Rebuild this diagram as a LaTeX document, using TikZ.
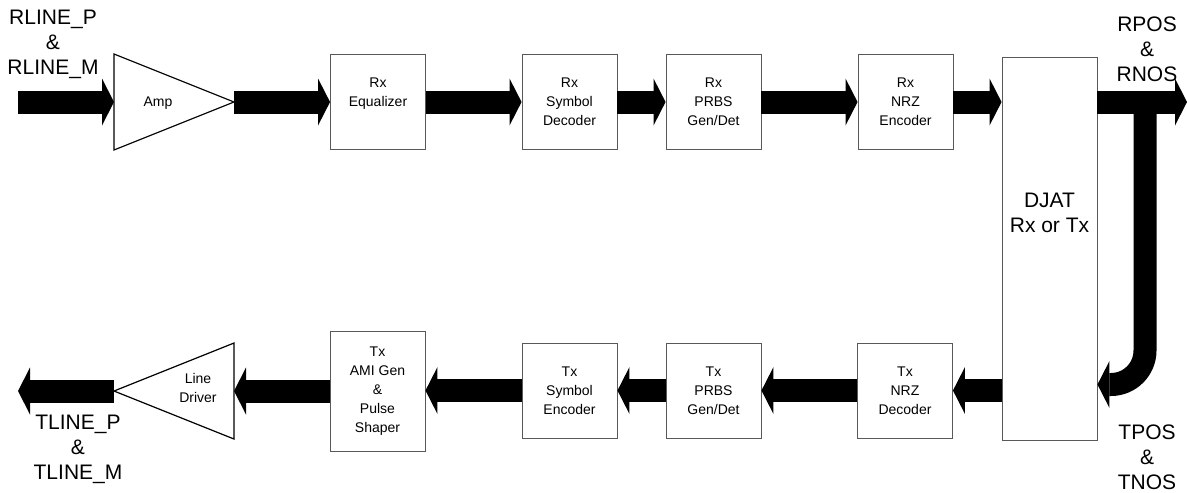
\documentclass[tikz,border=0pt]{standalone}
\usepackage{fontspec}
\setmainfont{Liberation Sans}
\usetikzlibrary{arrows.meta,positioning}

\begin{document}
\begin{tikzpicture}[
  x=1pt,y=-1pt,
  block/.style={draw=black!65,line width=.9pt,minimum width=95pt,minimum height=95pt,
    inner sep=0pt,align=center,font=\fontsize{14}{19}\selectfont},
  tri/.style={draw=black,line width=1.2pt},
  bus/.style={line width=23pt,-{Triangle[length=12pt,width=47pt,line width=0pt]}},
  sig/.style={align=center,font=\fontsize{21}{25}\selectfont},
  ]
  \useasboundingbox (0,0) rectangle (1187,493);

  % receive path
  \node[sig] (rline) at (53,44) {RLINE\_P\\\&\\RLINE\_M};
  \coordinate (rin) at (18,102);
  \draw[tri] (114,54) -- (234,102) coordinate (ampout) -- (114,150) -- cycle;
  \coordinate (ampin) at (114,102);
  \node[font=\fontsize{14}{19}\selectfont] (amp) at (158,103) {Amp};

  \node[block] (rxeq)  at (378,102) {Rx\\Equalizer\\\mbox{}};
  \node[block] (rxsym) at (569.5,102) {Rx\\Symbol\\Decoder};
  \node[block] (rxprbs) at (713.5,102) {Rx\\PRBS\\Gen/Det};
  \node[block] (rxnrz) at (905.5,102) {Rx\\NRZ\\Encoder};

  \node[block,minimum height=383pt] (djat) at (1049.5,248.5) {};
  \node[sig] (djattxt) at ([yshift=36pt]djat.center) {DJAT\\Rx or Tx};

  \node[sig] (rpos) at (1147,49) {RPOS\\\&\\RNOS};
  \coordinate (rout) at (1187,102);
  \coordinate (split) at (1145,102);

  % transmit path
  \node[sig] (tpos) at (1147,457) {TPOS\\\&\\TNOS};
  \node[block] (txnrz) at (905,390.5) {Tx\\NRZ\\Decoder};
  \node[block] (txprbs) at (713.5,390.5) {Tx\\PRBS\\Gen/Det};
  \node[block] (txsym) at (569.5,390.5) {Tx\\Symbol\\Encoder};
  \node[block,minimum height=120pt] (txami) at (377.5,391) {Tx\\AMI Gen\\\&\\Pulse\\Shaper};

  \draw[tri] (234,343) -- (114,391) coordinate (drvout) -- (234,439) -- cycle;
  \coordinate (drvin) at (234,391);
  \node[align=center,font=\fontsize{14}{19}\selectfont] (drv) at (198,388) {Line\\Driver};
  \coordinate (tout) at (18,391);
  \node[sig] (tline) at (78,449) {TLINE\_P\\\&\\TLINE\_M};

  % buses
  \draw[bus] (rin) -- (ampin);
  \draw[bus] (ampout) -- (rxeq.west);
  \draw[bus] (rxeq) -- (rxsym);
  \draw[bus] (rxsym) -- (rxprbs);
  \draw[bus] (rxprbs) -- (rxnrz);
  \draw[bus] (rxnrz.east) -- (rxnrz.east -| djat.west);
  \draw[bus] (rxnrz.east -| djat.east) -- (rout);
  \draw[bus,rounded corners=34pt] (split) |- ([yshift=6pt]djat.east |- txnrz.east);

  \draw[bus] (txnrz.east -| djat.west) -- (txnrz.east);
  \draw[bus] (txnrz) -- (txprbs);
  \draw[bus] (txprbs) -- (txsym);
  \draw[bus] (txsym.west) -- (txsym.west -| txami.east);
  \draw[bus] (txami.west) -- (drvin);
  \draw[bus] (drvout) -- (tout);

\end{tikzpicture}
\end{document}
